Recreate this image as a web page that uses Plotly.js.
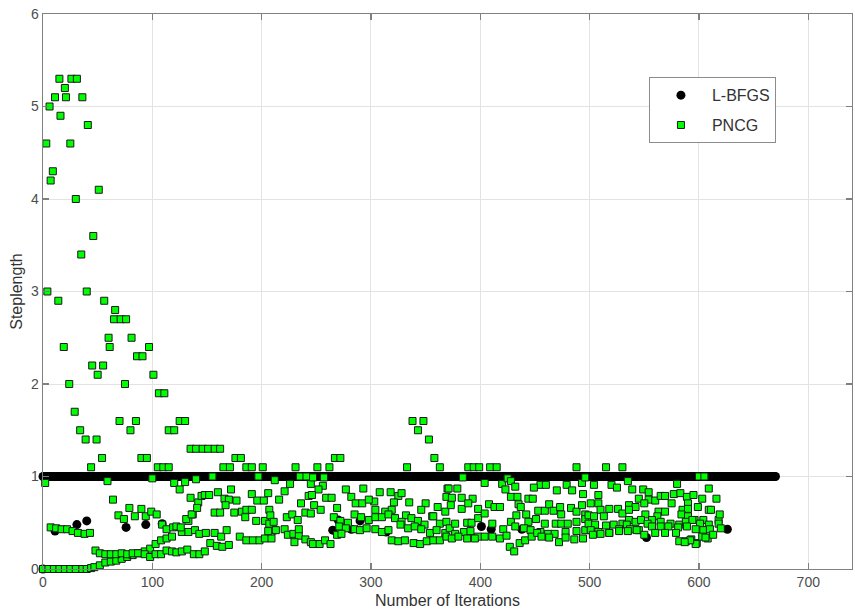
<!DOCTYPE html>
<html>
<head>
<meta charset="utf-8">
<script src="https://cdn.plot.ly/plotly-3.0.1.min.js"></script>
<style>
html,body{margin:0;padding:0;background:#fff;}
#chart{width:855px;height:609px;}
</style>
</head>
<body>
<div id="chart"></div>
<script>
// ---- L-BFGS: constant run of steplength 1 plus a few outliers ----
const lbfgsRunStart = 0;
const lbfgsRunEnd = 670;
const lbfgsRunValue = 1;
const lbfgsOutX = [0,11,31,40,76,94,109,212,265,270,282,290,314,401,410,438,552,626];
const lbfgsOutY = [0,0.41,0.48,0.52,0.45,0.48,0.49,0.42,0.42,0.53,0.43,0.52,0.4,0.46,0.43,0.43,0.34,0.43];

// ---- PNCG: points above the unit line ----
const pncgHighX = [3,4,6,7,9,11,14,15,16,19,20,21,24,25,26,29,30,31,34,35,36,39,40,41,44,45,46,49,50,51,54,55,56,60,61,65,66,70,71,75,76,80,81,85,86,90,91,95,97,101,105,106,110,111,115,115,120,125,130,135,140,146,151,157,162,165,171,176,181,186,191,201,231,251,262,267,272,333,338,343,348,353,358,363,389,394,399,409,415,488,515,530];
const pncgHighY = [4.6,3.0,5.0,4.2,4.3,5.1,2.9,5.3,4.9,2.4,5.2,5.1,2.0,4.6,5.3,1.7,4.0,5.3,1.5,3.4,5.1,1.4,3.0,4.8,1.1,2.2,3.6,1.4,2.1,4.1,1.2,2.2,2.9,2.5,2.4,2.7,2.8,1.6,2.7,2.0,2.7,1.5,2.5,1.6,2.3,1.2,2.3,1.2,2.4,2.1,1.1,1.9,1.1,1.9,1.1,1.5,1.5,1.6,1.6,1.3,1.3,1.3,1.3,1.3,1.3,1.1,1.1,1.2,1.2,1.1,1.1,1.1,1.1,1.1,1.1,1.2,1.2,1.1,1.6,1.5,1.6,1.4,1.2,1.1,1.1,1.1,1.1,1.1,1.1,1.1,1.1,1.1];

// ---- PNCG: points close to the unit line ----
const pncgNearX = [2,59,100,120,130,140,155,197,212,226,235,241,245,247,257,256,384,404,420,425,428,455,460,479,493,496,504,520,535,580,600,605];
const pncgNearY = [0.93,0.95,0.98,0.93,0.94,0.97,1.0,1.0,0.96,0.92,1.0,1.0,0.92,0.99,0.99,0.9,0.99,0.93,0.92,0.98,0.95,0.91,0.91,0.91,0.93,0.99,0.91,0.91,0.95,0.92,1.0,1.0];

// ---- PNCG: cloud below the unit line, by iteration range ----
const pncgLowAX = [0,5,10,15,20,25,30,36,40,44, 7,12,17,22,27,32,38,43, 47,48, 52,57,62,67,72,77,82,87,93,98,103,108,113,118, 52,57,62,67,72,77,82,87,93,98,103,108,113,118, 64,69,74,79,84,90,94,99,104,109,113,119];
const pncgLowAY = [0,0,0,0,0,0,0,0,0,0.01, 0.45,0.44,0.43,0.43,0.41,0.39,0.38,0.39, 0.02,0.2, 0.04,0.07,0.08,0.09,0.11,0.13,0.15,0.17,0.19,0.22,0.27,0.31,0.33,0.35, 0.17,0.16,0.16,0.16,0.17,0.16,0.17,0.17,0.16,0.13,0.16,0.16,0.2,0.19, 0.75,0.58,0.54,0.66,0.57,0.65,0.57,0.62,0.59,0.48,0.43,0.45];

const pncgLowBX = [122,125,135,137,133,142,145,148,152,160,172,166,170,177,167,191,206,196,202,216,221,243,236, 157,162,175,182,186,185,191,195,203,207,208,207,223,228,233,240,245, 127,133,139,143,149,157,163,168,153,159,164,170,180,186,192,198,203,209,206,213,221,211,224,229,234,240,245,230,234, 122,127,132,138,143,148, 126,131,136,141];
const pncgLowBY = [0.46,0.86,0.77,0.59,0.52,0.72,0.79,0.8,0.8,0.83,0.86,0.76,0.75,0.74,0.69,0.81,0.82,0.74,0.74,0.75,0.84,0.79,0.71, 0.61,0.61,0.61,0.62,0.64,0.56,0.64,0.52,0.52,0.64,0.58,0.49,0.56,0.59,0.53,0.61,0.6, 0.4,0.4,0.42,0.38,0.39,0.39,0.35,0.42,0.28,0.25,0.24,0.26,0.35,0.31,0.31,0.31,0.33,0.33,0.41,0.42,0.43,0.51,0.37,0.38,0.36,0.32,0.29,0.29,0.43, 0.18,0.19,0.21,0.16,0.16,0.19, 0.45,0.54,0.59,0.66];

const pncgLowCX = [252,277,293,282,303,308,318,325,328,321,335,350,361,370,369, 248,254,259,264,269,286,292,298,304,313,319,332,346,356,368,373, 266,272,279,285,291,298,304,310,316,322,328,337,343,349,357,363,369, 271,277,285,290,296,304,310,316,327,334,340,346,354,360,368,372, 247,253,258,263,269,273,319,325,331,339,345,351,357,363,369, 246];
const pncgLowCY = [0.86,0.86,0.87,0.78,0.73,0.83,0.83,0.79,0.82,0.72,0.72,0.71,0.67,0.87,0.78, 0.69,0.64,0.77,0.77,0.66,0.71,0.71,0.75,0.64,0.62,0.64,0.58,0.64,0.57,0.62,0.69, 0.56,0.52,0.5,0.59,0.56,0.53,0.56,0.56,0.59,0.55,0.51,0.55,0.52,0.48,0.57,0.49,0.51, 0.46,0.44,0.43,0.42,0.44,0.43,0.4,0.42,0.48,0.44,0.46,0.43,0.39,0.42,0.39,0.44, 0.27,0.27,0.31,0.27,0.37,0.38,0.31,0.3,0.31,0.28,0.27,0.3,0.31,0.31,0.35, 0.8];

const pncgLowDX = [371,379,374,383,393,383,389,398,408,413,418,428,434,444,448,435,437,442,453,459,463,467,473,474,483,488,493,496, 423,432,449,470,484,494, 377,388,392,398,404,411,421,428,433,444,451,459,469,474,480,488,496, 377,385,391,398,404,411,418,424,432,440,446,455,462,468,478,488,496, 374,380,388,395,427,431,436,441,447,452,456,463,472,478,486,494];
const pncgLowDY = [0.87,0.87,0.77,0.77,0.76,0.65,0.71,0.65,0.7,0.67,0.67,0.78,0.78,0.76,0.76,0.7,0.67,0.59,0.63,0.63,0.7,0.63,0.67,0.59,0.66,0.62,0.69,0.59, 0.86,0.89,0.88,0.85,0.85,0.81, 0.49,0.5,0.5,0.55,0.6,0.49,0.43,0.51,0.58,0.51,0.54,0.49,0.49,0.49,0.49,0.51,0.54, 0.38,0.4,0.41,0.35,0.35,0.35,0.33,0.36,0.46,0.44,0.42,0.4,0.38,0.38,0.4,0.41,0.42, 0.33,0.35,0.33,0.33,0.24,0.19,0.28,0.31,0.35,0.39,0.35,0.34,0.29,0.34,0.32,0.33];

const pncgLowEX = [525,539,549,554,545,554,560,565,569,577,583,589,595,590,603,616,609, 508,501,508,536,542,550,575,585,590,599,609, 499,510,518,526,504,513,530,536,551,563,569,562,584,590,596,604,611,618, 499,505,515,522,530,536,542,547,557,553,565,574,582,588,594,601,609,618, 501,508,518,527,534,537,545,557,565,572,581,589,597,604,610,620, 503,510,518,527,535,543,550,560,569,579,582,588,593,598,603,608,613, 619,606,597,592,587];
const pncgLowEY = [0.88,0.86,0.86,0.83,0.76,0.75,0.74,0.79,0.79,0.81,0.82,0.78,0.8,0.71,0.76,0.76,0.87, 0.8,0.71,0.71,0.69,0.67,0.71,0.71,0.64,0.65,0.67,0.64, 0.58,0.64,0.65,0.65,0.57,0.57,0.6,0.64,0.59,0.62,0.62,0.57,0.59,0.57,0.53,0.53,0.64,0.53, 0.49,0.48,0.47,0.48,0.49,0.53,0.51,0.53,0.53,0.49,0.51,0.49,0.48,0.51,0.53,0.49,0.48,0.49, 0.42,0.4,0.39,0.43,0.48,0.43,0.42,0.46,0.46,0.46,0.45,0.46,0.43,0.42,0.43,0.44, 0.37,0.38,0.39,0.41,0.41,0.42,0.37,0.39,0.39,0.39,0.3,0.3,0.32,0.28,0.35,0.33,0.37, 0.59,0.34,0.27,0.31,0.29];

const xTicks = [0,100,200,300,400,500,600,700];
const yTicks = [0,1,2,3,4,5,6];
const seriesNames = ['L-BFGS','PNCG'];

// ---- assemble ----
const lbX = [], lbY = [];
for (let i = lbfgsRunStart; i <= lbfgsRunEnd; i++) { lbX.push(i); lbY.push(lbfgsRunValue); }
const lbfgsX = lbX.concat(lbfgsOutX);
const lbfgsY = lbY.concat(lbfgsOutY);

const pncgX = [].concat(pncgHighX, pncgNearX, pncgLowAX, pncgLowBX, pncgLowCX, pncgLowDX, pncgLowEX);
const pncgY = [].concat(pncgHighY, pncgNearY, pncgLowAY, pncgLowBY, pncgLowCY, pncgLowDY, pncgLowEY);

const FONT = 'Liberation Sans, Arial, Helvetica, sans-serif';
const AX = '#808080';

const traces = [
  {
    type: 'scatter', mode: 'markers', name: seriesNames[0], legendgroup: 'a',
    x: lbfgsX, y: lbfgsY, cliponaxis: false,
    marker: {symbol: 'circle', size: 9, color: '#000000', line: {width: 0}}
  },
  {
    type: 'scatter', mode: 'markers', name: seriesNames[1], legendgroup: 'b',
    x: pncgX, y: pncgY, cliponaxis: false,
    marker: {symbol: 'square', size: 7, color: '#00ff00', line: {width: 1, color: '#1a1a1a'}}
  }
];

const layout = {
  width: 855, height: 609,
  margin: {l: 43, r: 3, t: 14, b: 40},
  paper_bgcolor: '#ffffff', plot_bgcolor: '#ffffff',
  font: {family: FONT, size: 14, color: '#4d4d4d'},
  showlegend: true,
  legend: {
    x: 0.749, y: 0.886, xanchor: 'left', yanchor: 'top',
    bordercolor: '#8c8c8c', borderwidth: 1, bgcolor: '#ffffff',
    font: {family: FONT, size: 16, color: '#333333'},
    traceorder: 'grouped', tracegroupgap: 6, itemwidth: 52
  },
  xaxis: {
    range: [0, 740], tickvals: xTicks, ticktext: xTicks.map(String),
    showgrid: true, gridcolor: '#e3e3e3', gridwidth: 1, zeroline: false,
    showline: true, linecolor: AX, linewidth: 1.3, mirror: 'ticks',
    ticks: 'inside', ticklen: 6, tickwidth: 1.3, tickcolor: AX,
    tickfont: {family: FONT, size: 14, color: '#4d4d4d'},
    title: {text: 'Number of Iterations', font: {family: FONT, size: 16, color: '#333333'}, standoff: 8}
  },
  yaxis: {
    range: [0, 6], tickvals: yTicks, ticktext: yTicks.map(String),
    showgrid: true, gridcolor: '#e3e3e3', gridwidth: 1, zeroline: false,
    showline: true, linecolor: AX, linewidth: 1.3, mirror: 'ticks',
    ticks: 'inside', ticklen: 6, tickwidth: 1.3, tickcolor: AX,
    tickfont: {family: FONT, size: 14, color: '#4d4d4d'},
    title: {text: 'Steplength', font: {family: FONT, size: 16, color: '#333333'}, standoff: 4}
  }
};

Plotly.newPlot('chart', traces, layout, {displayModeBar: false, staticPlot: true});
</script>
</body>
</html>
